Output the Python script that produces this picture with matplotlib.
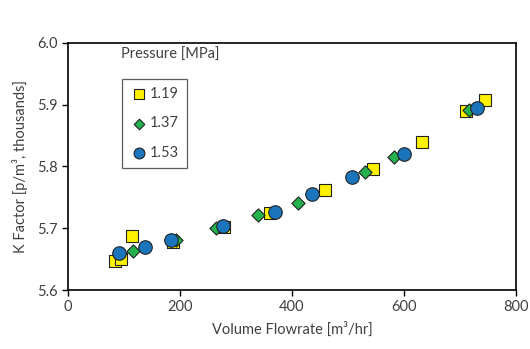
import numpy as np
import matplotlib
matplotlib.use("Agg")
import matplotlib.pyplot as plt

plt.rcParams['font.family'] = ['Lato', 'DejaVu Sans']

# readings
q_119 = [85, 94, 114, 187, 279, 360, 459, 544, 632, 710, 745]
k_119 = [5.647, 5.650, 5.688, 5.678, 5.702, 5.725, 5.762, 5.796, 5.840, 5.889, 5.908]

q_137 = [117, 193, 264, 340, 410, 530, 582, 715]
k_137 = [5.663, 5.681, 5.701, 5.721, 5.741, 5.791, 5.816, 5.892]

q_153 = [91, 138, 184, 276, 369, 436, 507, 600, 730]
k_153 = [5.660, 5.670, 5.681, 5.703, 5.727, 5.755, 5.783, 5.820, 5.894]

fig = plt.figure(figsize=(5.3, 3.49), dpi=100)
ax = fig.add_axes([0.128, 0.169, 0.846, 0.708])

edge = '#222222'
ax.scatter(q_119, k_119, marker='s', s=75, c='#FFF200', edgecolors=edge, linewidths=0.8, label='1.19', zorder=3)
ax.scatter(q_137, k_137, marker='D', s=45, c='#22B14C', edgecolors=edge, linewidths=0.8, label='1.37', zorder=3)
ax.scatter(q_153, k_153, marker='o', s=95, c='#1A75BC', edgecolors=edge, linewidths=0.8, label='1.53', zorder=3)

ax.set_xlim(0, 800)
ax.set_ylim(5.6, 6.0)
ax.set_xticks([0, 200, 400, 600, 800])
ax.set_yticks([5.6, 5.7, 5.8, 5.9, 6.0])
ax.yaxis.set_major_formatter(matplotlib.ticker.FormatStrFormatter('%.1f'))
ax.tick_params(direction='out', length=4, width=1, labelsize=10.5, colors='black', labelcolor='#404040')
for s in ax.spines.values():
    s.set_linewidth(1.2)
    s.set_color('black')

ax.set_xlabel('Volume Flowrate [m³/hr]', fontsize=10.5, color='#404040', labelpad=5)
ax.set_ylabel('K Factor [p/m³, thousands]', fontsize=10.5, color='#404040', labelpad=6)

ax.text(0.118, 0.951, 'Pressure [MPa]', transform=ax.transAxes, fontsize=10.5,
        color='#404040', va='center')
leg = ax.legend(loc='upper left', bbox_to_anchor=(0.12, 0.854), frameon=True, fancybox=False,
                fontsize=10.5, handletextpad=0.1, borderpad=0.55, labelspacing=1.05,
                handlelength=1.3, markerscale=0.8, borderaxespad=0)
leg.get_frame().set_edgecolor('#333333')
leg.get_frame().set_linewidth(0.9)
for t in leg.get_texts():
    t.set_color('#404040')

fig.savefig('out.png', dpi=100)
